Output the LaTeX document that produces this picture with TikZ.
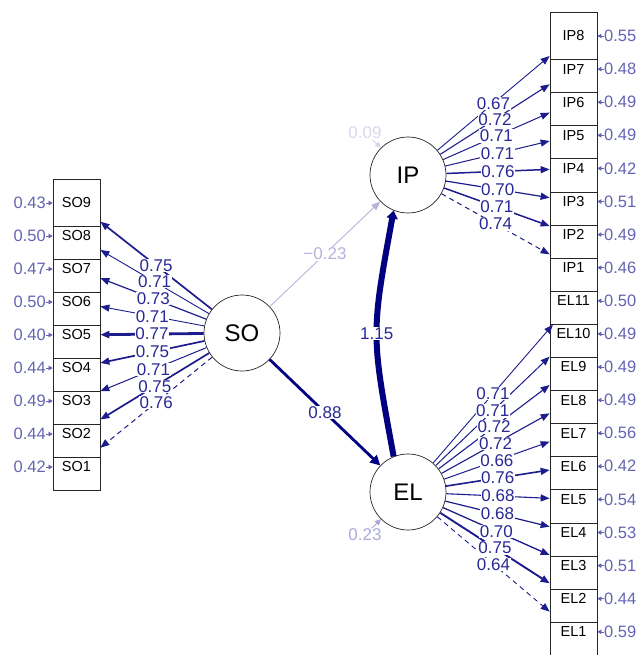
\documentclass[tikz,border=0pt]{standalone}
\usepackage{fontspec}
\setmainfont{Liberation Sans}
\usetikzlibrary{arrows.meta}
\definecolor{navyc}{RGB}{0,0,128}
\definecolor{loadc}{RGB}{28,28,140}
\definecolor{labc}{RGB}{40,40,150}
\definecolor{resc}{RGB}{100,100,180}
\definecolor{lightc}{RGB}{180,180,222}
\definecolor{vlightc}{RGB}{215,215,240}
\definecolor{midlightc}{RGB}{170,170,215}
\tikzset{
  obs/.style={draw=black!85, fill=white, line width=0.7pt, minimum width=47pt, minimum height=47pt, inner sep=0pt, font=\fontsize{14.5}{15}\selectfont},
  lat/.style={circle, draw=black!85, fill=white, line width=0.7pt, minimum size=76pt, inner sep=0pt, font=\fontsize{24}{26}\selectfont},
  ld/.style={draw=loadc, -{Triangle[length=9pt,width=7pt]}},
  elab/.style={fill=white, inner sep=0.6pt, text=labc, font=\fontsize{17}{17}\selectfont},
  reslab/.style={text=resc, inner sep=0pt, font=\fontsize{16.5}{17}\selectfont},
  resarr/.style={draw=resc, line width=0.6pt, -{Triangle[length=4pt,width=4.5pt]}},
  dashedload/.style={dash pattern=on 5pt off 4pt}
}
\begin{document}
\begin{tikzpicture}[x=1pt,y=-1pt]
\useasboundingbox (0,0) rectangle (636,655);

% right indicator boxes (drawn bottom to top)
\foreach \nm/\k/\r in {EL1/18/0.59, EL2/17/0.44, EL3/16/0.51, EL4/15/0.53, EL5/14/0.54, EL6/13/0.42, EL7/12/0.56, EL8/11/0.49, EL9/10/0.49, EL10/9/0.49, EL11/8/0.50, IP1/7/0.46, IP2/6/0.49, IP3/5/0.51, IP4/4/0.42, IP5/3/0.49, IP6/2/0.49, IP7/1/0.48, IP8/0/0.55}{
  \pgfmathsetmacro{\yy}{36+33.1*\k}
  \node[obs] (\nm) at (573.5,\yy) {\nm};
  \node[reslab, anchor=west] (r\nm) at (604,\yy) {\r};
  \draw[resarr] (r\nm.west) -- (\nm.east);
}

% left indicator boxes (drawn bottom to top)
\foreach \nm/\k/\r in {SO1/8/0.42, SO2/7/0.44, SO3/6/0.49, SO4/5/0.44, SO5/4/0.40, SO6/3/0.50, SO7/2/0.47, SO8/1/0.50, SO9/0/0.43}{
  \pgfmathsetmacro{\yy}{203+33*\k}
  \node[obs] (\nm) at (76.5,\yy) {\nm};
  \node[reslab, anchor=east] (r\nm) at (46,\yy) {\r};
  \draw[resarr] (r\nm.east) -- (\nm.west);
}

% latent variables
\node[lat] (SO) at (242,333) {SO};
\node[lat] (IP) at (408,175) {IP};
\node[lat] (EL) at (408,492) {EL};

% loadings: lines
\foreach \t/\w/\d in {SO9/1.7/solid, SO8/0.9/solid, SO7/1.2/solid, SO6/0.9/solid, SO5/2.8/solid, SO4/1.7/solid, SO3/1.0/solid, SO2/1.7/solid, SO1/1.0/dashedload}{
  \draw[ld, line width=\w pt, \d] (SO) -- (\t);
}
\foreach \t/\w/\d in {IP8/0.9/solid, IP7/1.1/solid, IP6/1.0/solid, IP5/1.0/solid, IP4/1.5/solid, IP3/1.2/solid, IP2/1.5/solid, IP1/1.0/dashedload}{
  \draw[ld, line width=\w pt, \d] (IP) -- (\t);
}
\foreach \t/\w/\d in {EL11/0.9/solid, EL10/1.0/solid, EL9/1.1/solid, EL8/1.1/solid, EL7/1.0/solid, EL6/1.6/solid, EL5/1.1/solid, EL4/1.2/solid, EL3/1.3/solid, EL2/1.9/solid, EL1/0.9/dashedload}{
  \draw[ld, line width=\w pt, \d] (EL) -- (\t);
}

% structural paths
\draw[draw=lightc, line width=0.9pt, -{Triangle[length=9pt,width=7pt]}] (SO) -- (IP);
\draw[draw=navyc, line width=2.8pt, -{Triangle[length=10pt,width=10pt]}] (SO) -- (EL);
\draw[draw=navyc, line width=6pt, -{Triangle[length=8pt,width=11pt]}] (EL.112) .. controls (371,334) .. (IP.248) node[elab, pos=0.5] {1.15};

% latent residuals
\node[text=vlightc, inner sep=0.5pt, font=\fontsize{17}{17}\selectfont] (rIP) at (365,133) {0.09};
\draw[draw=vlightc, line width=0.9pt, -{Triangle[length=6pt,width=6pt]}] (rIP) -- (IP.135);
\node[text=midlightc, inner sep=0.5pt, font=\fontsize{17}{17}\selectfont] (rEL) at (365,535) {0.23};
\draw[draw=midlightc, line width=0.9pt, -{Triangle[length=6pt,width=6pt]}] (rEL) -- (EL.225);

% loading labels
\foreach \t/\v in {SO9/0.75, SO8/0.71, SO7/0.73, SO6/0.71, SO5/0.77, SO4/0.75, SO3/0.71, SO2/0.75, SO1/0.76}{
  \path (SO) -- (\t) node[elab, midway] {\v};
}
\foreach \t/\v in {IP8/0.67, IP7/0.72, IP6/0.71, IP5/0.71, IP4/0.76, IP3/0.70, IP2/0.71, IP1/0.74}{
  \path (IP) -- (\t) node[elab, midway] {\v};
}
\foreach \t/\v in {EL11/0.71, EL10/0.71, EL9/0.72, EL8/0.72, EL7/0.66, EL6/0.76, EL5/0.68, EL4/0.68, EL3/0.70, EL2/0.75, EL1/0.64}{
  \path (EL) -- (\t) node[elab, midway] {\v};
}
\path (SO) -- (IP) node[elab, midway, text=lightc] {−0.23};
\path (SO) -- (EL) node[elab, midway] {0.88};
\end{tikzpicture}
\end{document}
